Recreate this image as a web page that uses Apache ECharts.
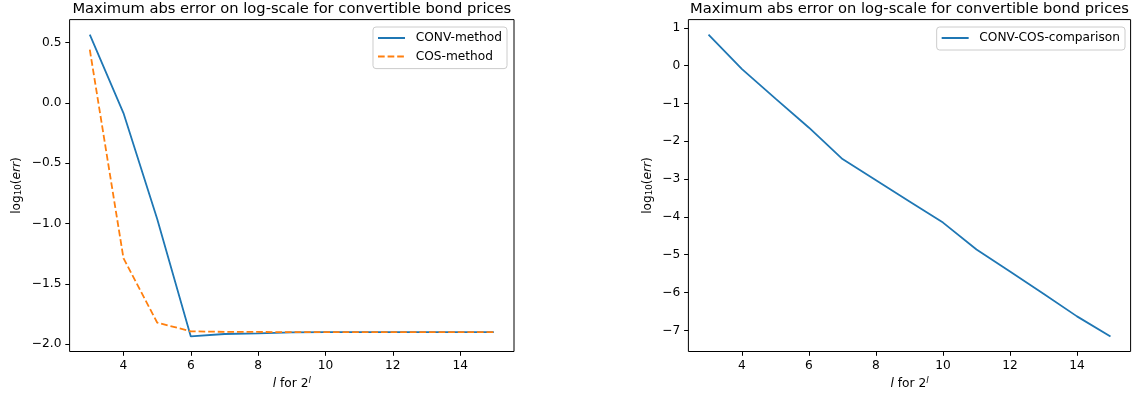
<!DOCTYPE html>
<html>
<head>
<meta charset="utf-8">
<script src="https://cdn.jsdelivr.net/npm/echarts@6/dist/echarts.min.js"></script>
<style>
  html, body { margin: 0; padding: 0; background: #fff; }
  #chart { width: 1139px; height: 403px; }
</style>
</head>
<body>
<div id="chart"></div>
<script>
// Grid level l (number of points 2^l)
const levels = [3, 4, 5, 6, 7, 8, 9, 10, 11, 12, 13, 14, 15];

// log10 of maximum absolute error, left panel
const convMethod = [0.564, -0.085, -0.96, -1.935, -1.915, -1.91, -1.902, -1.90, -1.90, -1.90, -1.90, -1.90, -1.90];
const cosMethod  = [0.44, -1.287, -1.82, -1.893, -1.897, -1.898, -1.90, -1.90, -1.90, -1.90, -1.90, -1.90, -1.90];

// log10 of max abs difference between the two methods, right panel
const convCosComparison = [0.82, -0.09, -0.87, -1.64, -2.47, -3.03, -3.59, -4.15, -4.86, -5.44, -6.03, -6.63, -7.16];

// Tick labels
const xTicks = [4, 6, 8, 10, 12, 14];
const yTicksLeft = [-2.0, -1.5, -1.0, -0.5, 0.0, 0.5];
const yTicksRight = [-7, -6, -5, -4, -3, -2, -1, 0, 1];

const titleText = 'Maximum abs error on log-scale for convertible bond prices';

const FONT = 'DejaVu Sans';
const TICK_FS = 12.2;
const BLUE = '#1f77b4';
const ORANGE = '#ff7f0e';

function pairs(xs, ys) { return xs.map((x, i) => [x, ys[i]]); }

// Axis limits padded by 5% like the plotting defaults
function padded(values) {
  const lo = Math.min(...values), hi = Math.max(...values);
  const m = (hi - lo) * 0.05;
  return [lo - m, hi + m];
}

function minusFmt(digits) {
  return v => {
    const r = Math.abs(v) < 1e-9 ? 0 : v;
    const s = Math.abs(r).toFixed(digits);
    return (r < 0 ? '\u2212' : '') + s;
  };
}

const xLim = padded(levels);
const yLimL = padded(convMethod.concat(cosMethod));
const yLimR = padded(convCosComparison);

const grids = [
  { left: 69.6, top: 19.6, width: 444.4, height: 331.9 },
  { left: 688.4, top: 19.6, width: 442.2, height: 331.9 }
];

const richLabelX = {
  n: { fontFamily: FONT, fontSize: TICK_FS, color: '#000' },
  i: { fontFamily: FONT, fontSize: TICK_FS, fontStyle: 'italic', color: '#000' },
  sup: { fontFamily: FONT, fontSize: 8.6, fontStyle: 'italic', color: '#000', verticalAlign: 'top', padding: [0, 0, 6, 0] }
};
const richLabelY = {
  n: { fontFamily: FONT, fontSize: TICK_FS, color: '#000' },
  i: { fontFamily: FONT, fontSize: TICK_FS, fontStyle: 'italic', color: '#000' },
  sub: { fontFamily: FONT, fontSize: 8.6, color: '#000', verticalAlign: 'bottom', padding: [5, 0, 0, 0] }
};

function xAxisFor(idx) {
  return {
    type: 'value', gridIndex: idx, min: xLim[0], max: xLim[1],
    axisLine: { show: false, onZero: false },
    splitLine: { show: false },
    axisTick: { show: true, length: 4.3, lineStyle: { color: '#000', width: 1 }, customValues: xTicks },
    axisLabel: { margin: 8.2, fontFamily: FONT, fontSize: TICK_FS, color: '#000', customValues: xTicks, formatter: v => String(v) },
    name: '{i|l}{n| for 2}{sup|l}',
    nameLocation: 'middle', nameGap: 25,
    nameTextStyle: { rich: richLabelX }
  };
}

function yAxisFor(idx, lim, ticks, digits, gap) {
  return {
    type: 'value', gridIndex: idx, min: lim[0], max: lim[1],
    axisLine: { show: false, onZero: false },
    splitLine: { show: false },
    axisTick: { show: true, length: 4.3, lineStyle: { color: '#000', width: 1 }, customValues: ticks },
    axisLabel: { margin: 8.2, fontFamily: FONT, fontSize: TICK_FS, color: '#000', customValues: ticks, formatter: minusFmt(digits) },
    name: '{n|log}{sub|10}{n|(}{i|err}{n|)}',
    nameLocation: 'middle', nameGap: gap, nameRotate: 90,
    nameTextStyle: { rich: richLabelY }
  };
}

const legendBase = {
  orient: 'vertical',
  top: 27,
  itemWidth: 27,
  itemHeight: 12,
  itemGap: 6.6,
  padding: [5, 5, 6, 4],
  borderColor: '#cccccc',
  borderWidth: 1,
  borderRadius: 3,
  backgroundColor: 'rgba(255,255,255,0.8)',
  itemStyle: { opacity: 0 },
  textStyle: { fontFamily: FONT, fontSize: TICK_FS, color: '#000', padding: [0, 0, 0, 5.7] }
};

const option = {
  animation: false,
  backgroundColor: '#fff',
  grid: grids.map(g => Object.assign({ show: true, borderColor: '#000', borderWidth: 1, backgroundColor: 'transparent' }, g)),
  xAxis: [xAxisFor(0), xAxisFor(1)],
  yAxis: [
    yAxisFor(0, yLimL, yTicksLeft, 1, 46),
    yAxisFor(1, yLimR, yTicksRight, 0, 34)
  ],
  legend: [
    Object.assign({}, legendBase, { right: 1139 - 507, data: ['CONV-method', 'COS-method'] }),
    Object.assign({}, legendBase, { right: 1139 - 1125, data: ['CONV-COS-comparison'] })
  ],
  graphic: [
    { type: 'text', x: grids[0].left + grids[0].width / 2, y: 9, style: { text: titleText, font: '14.7px "DejaVu Sans"', fill: '#000', align: 'center', verticalAlign: 'middle' } },
    { type: 'text', x: grids[1].left + grids[1].width / 2, y: 9, style: { text: titleText, font: '14.7px "DejaVu Sans"', fill: '#000', align: 'center', verticalAlign: 'middle' } }
  ],
  series: [
    {
      name: 'CONV-method', type: 'line', xAxisIndex: 0, yAxisIndex: 0,
      data: pairs(levels, convMethod), symbol: 'none', z: 3,
      lineStyle: { color: BLUE, width: 1.8 }, itemStyle: { color: BLUE }
    },
    {
      name: 'COS-method', type: 'line', xAxisIndex: 0, yAxisIndex: 0,
      data: pairs(levels, cosMethod), symbol: 'none', z: 4,
      lineStyle: { color: ORANGE, width: 1.8, type: [6.7, 2.9] }, itemStyle: { color: ORANGE }
    },
    {
      name: 'CONV-COS-comparison', type: 'line', xAxisIndex: 1, yAxisIndex: 1,
      data: pairs(levels, convCosComparison), symbol: 'none',
      lineStyle: { color: BLUE, width: 1.8 }, itemStyle: { color: BLUE }
    }
  ]
};

const chart = echarts.init(document.getElementById('chart'), null, { renderer: 'canvas' });
chart.setOption(option);
</script>
</body>
</html>
